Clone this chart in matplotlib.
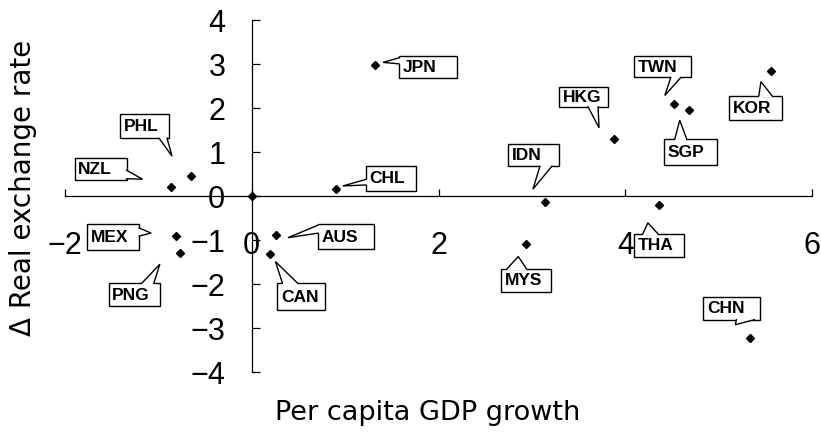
import numpy as np
import matplotlib
matplotlib.use("Agg")
import matplotlib.pyplot as plt
import matplotlib.transforms as mtransforms
from matplotlib.patches import Polygon, Rectangle

# ── Data ─────────────────────────────────────────────────────────────────────
countries = ["NZL", "PHL", "MEX", "PNG", "AUS", "CAN", "CHL", "JPN",
             "IDN", "MYS", "HKG", "THA", "TWN", "SGP", "KOR", "CHN", ""]
gdp_growth = [-0.87, -0.65, -0.81, -0.77, 0.26, 0.20, 0.90, 1.32,
              3.14, 2.94, 3.88, 4.36, 4.52, 4.68, 5.56, 5.34, 0.0]
rer_change = [0.20, 0.45, -0.91, -1.30, -0.89, -1.32, 0.16, 2.98,
              -0.14, -1.08, 1.30, -0.20, 2.08, 1.95, 2.85, -3.22, 0.0]

x_ticks = [-2, 0, 2, 4, 6]
y_ticks = [-4, -3, -2, -1, 0, 1, 2, 3, 4]

# ── Callout layout: pixel offsets from the point (y up) ──────────────────────
# box = (left, bottom, right, top), edge the pointer leaves from,
# base = two points on that edge, tip = pointer tip
CALLOUTS = {
    "NZL": ((-96, 7, -44, 29), "r", ((-44, 17), (-44, 8.5)), (-28, 8)),
    "PHL": ((-71, 38, -22, 62), "b", ((-32, 38), (-24, 38)), (-19, 20)),
    "MEX": ((-89, -14, -37, 12), "r", ((-37, 8), (-37, 0)), (-25, 3)),
    "PNG": ((-71, -53, -20, -30), "t", ((-38, -30), (-26, -30)), (-20, -11)),
    "AUS": ((42, -14, 98, 11), "l", ((42, 10), (42, 2)), (12, -2.5)),
    "CAN": ((7, -56, 55, -29), "t", ((12, -29), (27, -29)), (5, -7.5)),
    "CHL": ((30, -2, 80, 23), "l", ((30, 9.5), (30, 4)), (7, 3)),
    "JPN": ((24, -13, 82, 9), "l", ((24, 7), (24, 1)), (8, 2.5)),
    "IDN": ((-37, 36, 14, 58), "b", ((-5, 36), (7, 36)), (-12, 13)),
    "MYS": ((-25, -48, 25, -25), "t", ((-19, -25), (0, -25)), (-8, -13)),
    "HKG": ((-55, 32, -6, 52), "b", ((-26, 32), (-16, 32)), (-15, 11)),
    "THA": ((-25, -52, 25, -29), "t", ((-16, -29), (-1, -29)), (-11, -18)),
    "TWN": ((-40, 27, 17, 48), "b", ((-3, 27), (7, 27)), (-9, 9)),
    "SGP": ((-25, -55, 28, -29), "t", ((-14, -29), (-2, -29)), (-9, -10)),
    "KOR": ((-42, -49, 11, -25), "t", ((-12, -25), (1, -25)), (-10, -11)),
    "CHN": ((-47, 18, 10, 41), "b", ((-14, 18), (4, 18)), (-15, 13)),
}

INWARD = {"l": (2, 0), "r": (-2, 0), "t": (0, -2), "b": (0, 2)}
TITLE_FONT = "DejaVu Sans"

plt.rcParams["font.family"] = ["Liberation Sans", "DejaVu Sans"]


def draw_callout(ax, x, y, name):
    box, edge, base, tip = CALLOUTS[name]
    trans = mtransforms.IdentityTransform() + \
        mtransforms.ScaledTranslation(x, y, ax.transData)
    left, bottom, right, top = box
    ax.add_patch(Rectangle((left, bottom), right - left, top - bottom,
                           transform=trans, facecolor="white",
                           edgecolor="black", lw=1.0, zorder=4,
                           clip_on=False))
    (b1x, b1y), (b2x, b2y) = base
    dx, dy = INWARD[edge]
    cover = [(b1x + dx, b1y + dy), (b1x, b1y), tip, (b2x, b2y),
             (b2x + dx, b2y + dy)]
    ax.add_patch(Polygon(cover, closed=True, transform=trans,
                         facecolor="white", edgecolor="none", zorder=5,
                         clip_on=False))
    ax.plot([b1x, tip[0], b2x], [b1y, tip[1], b2y], color="black",
            lw=1.0, transform=trans, zorder=6, clip_on=False,
            solid_joinstyle="miter")
    ax.text(left + 3.5, (bottom + top) / 2 - 0.5, name, transform=trans,
            ha="left", va="center", fontsize=12.5, fontweight="bold",
            zorder=7)


def main():
    fig = plt.figure(figsize=(8.21, 4.40), dpi=100)
    ax = fig.add_axes([65 / 821, 68 / 440, 747 / 821, 352 / 440])

    ax.set_xlim(-2, 6)
    ax.set_ylim(-4, 4)

    for side in ("top", "right"):
        ax.spines[side].set_visible(False)
    ax.spines["left"].set_position(("data", 0))
    ax.spines["bottom"].set_position(("data", 0))
    for side in ("left", "bottom"):
        ax.spines[side].set_linewidth(0.9)
        ax.spines[side].set_color("black")

    ax.set_xticks(x_ticks)
    ax.set_yticks(y_ticks)
    ax.tick_params(axis="x", direction="in", length=5, width=0.9, pad=25,
                   labelsize=22)
    ax.tick_params(axis="y", direction="in", length=6, width=0.9, pad=19,
                   labelsize=22)

    ax.plot(gdp_growth, rer_change, linestyle="none", marker="D",
            markersize=3.8, color="black", zorder=3, clip_on=False)

    for name, gx, ry in zip(countries, gdp_growth, rer_change):
        if name:
            draw_callout(ax, gx, ry, name)

    fig.text(428 / 821, (440 - 420) / 440, "Per capita GDP growth",
             ha="center", va="baseline", fontsize=19.5, family=TITLE_FONT)
    fig.text(23 / 821, 1 - 188 / 440, "Δ Real exchange rate",
             ha="center", va="center", rotation=90, fontsize=20,
             family=TITLE_FONT)

    fig.savefig("out.png", dpi=100)
    plt.close(fig)


if __name__ == "__main__":
    main()
